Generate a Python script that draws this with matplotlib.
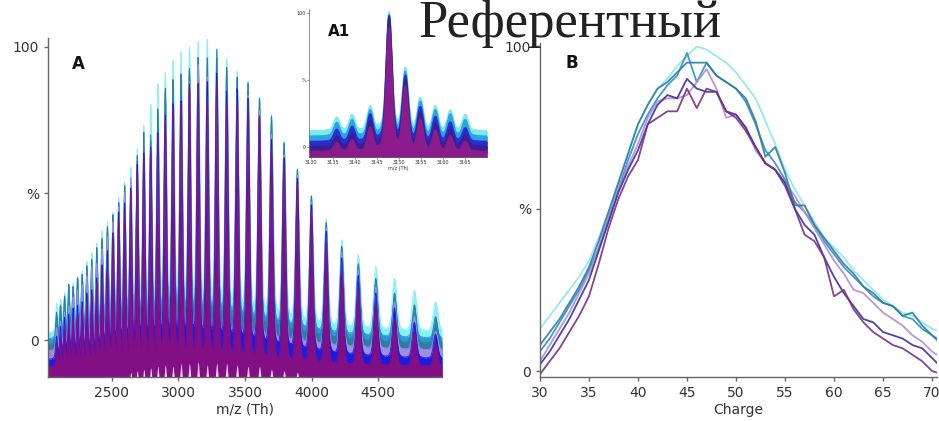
import matplotlib.pyplot as plt
import numpy as np

# charge states of the antibody envelope
charges = np.arange(30, 72)
mass = 147910.0      # Da
proton = 1.00728

# relative abundance (%) per charge state, one list per acquisition
cyan_pct = [13, 17, 21, 25, 29, 34, 41, 49, 58, 67, 76, 82, 87, 90, 94, 97, 100, 99, 97, 95, 92,
            88, 84, 77, 70, 62, 56, 51, 46, 41, 38, 35, 31, 28, 25, 22, 20, 18, 17, 15, 13, 12]
blue_pct = [6, 10, 15, 20, 25, 31, 38, 47, 56, 65, 73, 79, 84, 88, 91, 98, 89, 95, 91, 89, 87,
            83, 76, 68, 64, 59, 52, 49, 45, 40, 36, 32, 29, 26, 23, 21, 20, 17, 16, 13, 11, 8]
teal_pct = [8, 12, 16, 21, 26, 32, 40, 49, 58, 67, 76, 82, 87, 89, 92, 95, 95, 95, 91, 89, 87,
            84, 77, 66, 69, 61, 51, 51, 45, 41, 37, 33, 30, 26, 24, 21, 20, 17, 18, 14, 11, 9]
lavender_pct = [3, 8, 13, 18, 24, 30, 38, 47, 56, 63, 70, 78, 83, 84, 84, 85, 89, 93, 87, 78, 79,
                75, 68, 64, 62, 58, 54, 49, 44, 39, 34, 30, 25, 24, 21, 18, 16, 14, 11, 9, 6, 4]
indigo_pct = [2, 6, 11, 16, 22, 28, 37, 46, 55, 62, 68, 76, 82, 85, 84, 90, 87, 86, 86, 80, 79,
              75, 69, 64, 62, 58, 50, 45, 42, 35, 29, 24, 20, 16, 15, 12, 11, 10, 8, 7, 4, 1]
purple_pct = [-1, 3, 7, 12, 17, 23, 33, 44, 53, 60, 65, 76, 78, 80, 80, 87, 81, 87, 86, 80, 78,
              74, 69, 64, 62, 57, 50, 42, 40, 35, 23, 25, 19, 15, 12, 10, 8, 7, 5, 3, 0, -1]

# baseline level, relative peak width and tailing of each trace in the stacked spectra
spec_bases = [2.5, 0.5, -1.5, -3.5, -6.5, -9.0]
spec_widths = [0.0035, 0.003, 0.003, 0.003, 0.003, 0.003]
spec_tails = [0.13, 0.15, 0.14, 0.10, 0.13, 0.07]
spec_series = [cyan_pct, blue_pct, teal_pct, lavender_pct, indigo_pct, purple_pct]
spec_colors = ["#86f0f6", "#2c98d6", "#2f7d9c", "#a08ee6", "#1c1ce0", "#820f84"]

# pale artefact spikes under the purple trace (charges 38..56)
pale_charges = np.arange(38, 57)
pale_tips = [-11, -10.5, -10, -9, -9, -8.5, -8, -8, -8.5, -7.5, -8, -8, -9, -8.5, -9, -9.5,
             -10, -10.5, -11]

# zoom on the 47+ charge state
zoom_mz = [3135.8, 3139.3, 3143.4, 3147.7, 3151.4, 3154.8, 3158.2, 3161.6, 3165.0]
zoom_cyan = [22, 24, 30, 100, 58, 36, 30, 27, 24]
zoom_blue = [18, 20, 27, 98, 55, 33, 27, 24, 20]
zoom_navy = [13, 15, 24, 97, 52, 29, 22, 18, 14]
zoom_indigo = [8, 10, 19, 95, 49, 25, 17, 13, 9]
zoom_purple = [3, 5, 14, 88, 44, 20, 12, 8, 4]
zoom_bases = [12, 8, 4, 0.5, -3.5]
zoom_colors = ["#7ee8f2", "#2ba4da", "#2a2ad8", "#3b1f90", "#8c1c8c"]

line_series = [cyan_pct, blue_pct, lavender_pct, teal_pct, indigo_pct, purple_pct]
line_colors = ["#8ce6ee", "#2d8fd0", "#b48ad8", "#2e7e98", "#3b2fa0", "#7a2e88"]


def profile(x, centers, heights, base, sigma, tail=0.15):
    y = np.full_like(x, base, dtype=float)
    for c, h in zip(centers, heights):
        s = sigma(c)
        d = (x - c) / s
        y += (h - base) / (1 + tail) * (np.exp(-0.5 * d ** 2) + tail * np.exp(-0.5 * (d / 3.0) ** 2))
    return y


def style_axis(ax, size=10, lw=1.0, length=3):
    for side in ["top", "right"]:
        ax.spines[side].set_visible(False)
    for side in ["left", "bottom"]:
        ax.spines[side].set_color("#666666")
        ax.spines[side].set_linewidth(lw)
    ax.tick_params(direction="out", length=length, width=lw, colors="#666666",
                   labelcolor="#333333", labelsize=size)


fig = plt.figure(figsize=(9.39, 4.21), dpi=100)

# ---- A: stacked spectra ----
axA = fig.add_axes([0.0511, 0.1045, 0.4196, 0.805])
mz_grid = np.linspace(2020, 4980, 9000)
peak_mz = (mass + charges * proton) / charges
for vals, base, w, t, col in zip(spec_series, spec_bases, spec_widths, spec_tails, spec_colors):
    y = profile(mz_grid, peak_mz, vals, base, lambda c, w=w: w * c, tail=t)
    axA.fill_between(mz_grid, -14, y, color=col, lw=0)
    axA.plot(mz_grid, y, color=col, lw=0.6)
pale_mz = (mass + pale_charges * proton) / pale_charges
pale = profile(mz_grid, pale_mz, pale_tips, -14, lambda c: 0.002 * c, tail=0)
axA.fill_between(mz_grid, -14, pale, color="#f3d4f0", lw=0)

axA.set_xlim(2020, 4980)
axA.set_ylim(-12.6, 103)
axA.set_xticks([2500, 3000, 3500, 4000, 4500])
axA.set_yticks([0, 50, 100])
axA.set_yticklabels(["0", "%", "100"])
axA.set_xlabel("m/z (Th)", fontsize=10, color="#333333", labelpad=2)
style_axis(axA)
axA.text(0.076, 0.925, "A", transform=axA.transAxes, fontsize=12, fontweight="bold",
         ha="center", va="center", color="#111111")

# ---- A1: inset on one charge state ----
axI = fig.add_axes([0.329, 0.627, 0.19, 0.352])
zoom_grid = np.linspace(3129.5, 3170, 3000)
zoom_series = [zoom_cyan, zoom_blue, zoom_navy, zoom_indigo, zoom_purple]
for vals, base, col in zip(zoom_series, zoom_bases, zoom_colors):
    y = profile(zoom_grid, zoom_mz, vals, base, lambda c: 0.6, tail=0.1)
    axI.fill_between(zoom_grid, base - 5, y, color=col, lw=0)
    axI.plot(zoom_grid, y, color=col, lw=1.2)
axI.set_xlim(3129.5, 3170)
axI.set_ylim(-7.5, 103)
axI.set_xticks(np.arange(3130, 3170, 5))
axI.set_yticks([0, 50, 100])
axI.set_yticklabels(["0", "%", "100"])
axI.set_xlabel("m/z (Th)", fontsize=3.5, color="#333333", labelpad=0.5)
style_axis(axI, size=3.5, lw=0.5, length=1.2)
axI.tick_params(pad=1)
axI.text(0.17, 0.845, "A1", transform=axI.transAxes, fontsize=11, fontweight="bold",
         ha="center", va="center", color="#111111")

# ---- B: charge state distributions ----
axB = fig.add_axes([0.575, 0.1045, 0.4228, 0.793])
for vals, col in zip(line_series, line_colors):
    axB.plot(charges, vals, color=col, lw=1.3, alpha=0.9)
axB.set_xlim(30, 70.5)
axB.set_ylim(-1.85, 101)
axB.set_xticks(np.arange(30, 71, 5))
axB.set_yticks([0, 50, 100])
axB.set_yticklabels(["0", "%", "100"])
axB.set_xlabel("Charge", fontsize=10, color="#333333", labelpad=2)
style_axis(axB)
axB.text(0.08, 0.94, "B", transform=axB.transAxes, fontsize=12, fontweight="bold",
         ha="center", va="center", color="#111111")

fig.text(0.607, 0.912, "Референтный", family="Liberation Serif", fontsize=38,
         ha="center", va="baseline", color="#222222")

fig.savefig("out.png", dpi=100)
